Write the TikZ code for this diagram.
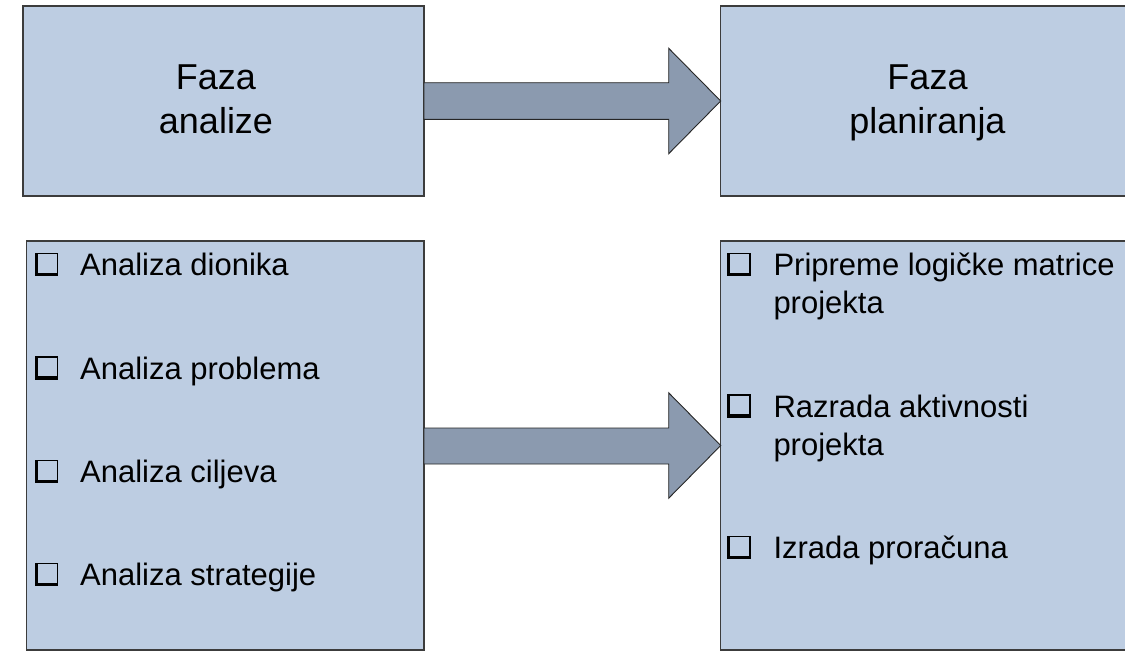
\documentclass[tikz,border=0pt]{standalone}
\usepackage{fontspec}
\setmainfont{Liberation Sans}
\usetikzlibrary{calc}
\definecolor{boxfill}{RGB}{189,205,226}
\definecolor{arrowfill}{RGB}{139,154,175}
\definecolor{edge}{RGB}{60,60,60}
\tikzset{
  phasebox/.style={draw=edge, line width=1.3pt, fill=boxfill, inner sep=0pt, outer sep=0pt, anchor=north west},
  blockarrow/.style={draw=black!85, line width=0.9pt, fill=arrowfill, line join=miter},
  titletext/.style={font=\fontsize{36}{44}\selectfont, align=center, anchor=base, inner sep=0pt},
  itemtext/.style={font=\fontsize{31}{38}\selectfont, align=left, anchor=base west, inner sep=0pt},
  cbox/.pic={
    \draw[line width=1.5pt, black] (0,0) rectangle (22,-22);
    \fill[black] (-0.75,0.75) rectangle (22.75,-2.6);
    \fill[black] (-0.75,0.75) rectangle (2.0,-22.75);
  }
}
\begin{document}
\begin{tikzpicture}[x=1pt,y=-1pt]
\clip (0,0) rectangle (1125,651);
\fill[white] (0,0) rectangle (1125,651);

% boxes
\node[phasebox, minimum width=401pt, minimum height=190pt] (A) at (23,6) {};
\node[phasebox, minimum width=420pt, minimum height=190pt] (B) at (720.7,6) {};
\node[phasebox, minimum width=397.3pt, minimum height=409pt] (C) at (26.7,241) {};
\node[phasebox, minimum width=420pt, minimum height=409pt] (D) at (720.7,241) {};

% block arrows
\draw[blockarrow] ($(A.east)+(0,-18.3)$) -- ($(B.west)+(-52,-18.3)$) -- ($(B.west)+(-52,-52.7)$)
  -- (B.west) -- ($(B.west)+(-52,52.7)$) -- ($(B.west)+(-52,18.3)$) -- ($(A.east)+(0,18.3)$) -- cycle;
\draw[blockarrow] ($(C.east)+(0,-17.5)$) -- ($(D.west)+(-52,-17.5)$) -- ($(D.west)+(-52,-52.7)$)
  -- (D.west) -- ($(D.west)+(-52,52.7)$) -- ($(D.west)+(-52,18.5)$) -- ($(C.east)+(0,18.5)$) -- cycle;

% titles (base anchor = baseline of last line)
\node[titletext] (tA) at (216,133) {Faza\\analize};
\node[titletext] (tB) at (927.5,133) {Faza\\planiranja};

% left items
\pic at (35.5,275.5) {cbox};
\node[itemtext] (c1) at (80,275.7) {Analiza dionika};
\pic at (35.5,379) {cbox};
\node[itemtext] (c2) at (80,379) {Analiza problema};
\pic at (35.5,482.3) {cbox};
\node[itemtext] (c3) at (80,482.3) {Analiza ciljeva};
\pic at (35.5,585.7) {cbox};
\node[itemtext] (c4) at (80,585.7) {Analiza strategije};

% right items
\pic at (728,275.5) {cbox};
\node[itemtext] (d1) at (773.3,313.3) {Pripreme logičke matrice\\projekta};
\pic at (728,417) {cbox};
\node[itemtext] (d2) at (773.3,455) {Razrada aktivnosti\\projekta};
\pic at (728,558.5) {cbox};
\node[itemtext] (d3) at (773.3,558.3) {Izrada proračuna};
\end{tikzpicture}
\end{document}
